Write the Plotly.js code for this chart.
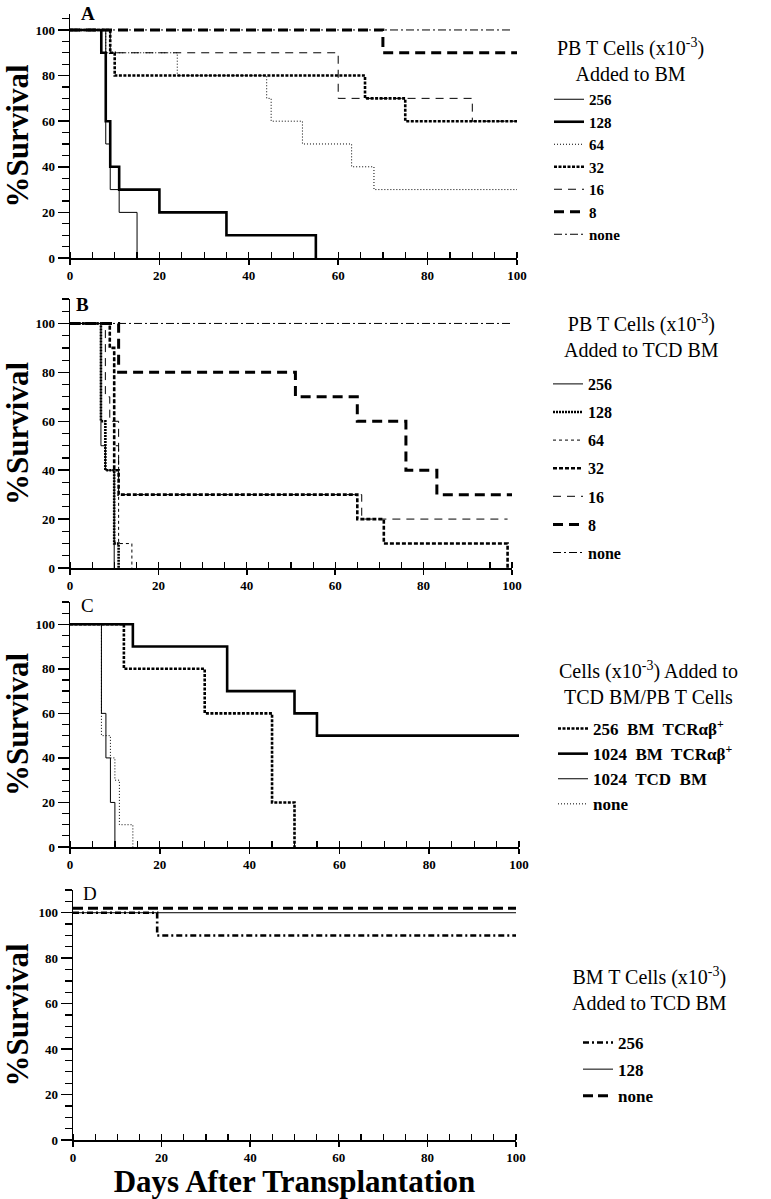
<!DOCTYPE html>
<html><head><meta charset="utf-8">
<script src="https://cdn.plot.ly/plotly-3.0.1.min.js"></script>
<style>body{margin:0;background:#fff}</style>
</head><body>
<div id="chart" style="width:771px;height:1199px"></div>
<script>
// ---------- DATA ----------
// Panel A: PB T cells (x10^-3) added to BM
const aNames = ["256","128","64","32","16","8","none"];
const aDays256 = [0,8,9,11,15];            const aSurv256 = [100,50,30,20,0];
const aDays128 = [0,7,8,9,11,20,35,55];    const aSurv128 = [100,90,60,40,30,20,10,0];
const aDays64  = [0,8,24,44,45,52,63,68,100]; const aSurv64 = [100,90,80,70,60,50,40,30,30];
const aDays32  = [0,9,10,66,75,100];       const aSurv32  = [100,90,80,70,60,60];
const aDays16  = [0,9,60,90,100];          const aSurv16  = [100,90,70,60,60];
const aDays8   = [0,70,100];               const aSurv8   = [100,90,90];
const aDaysNone= [0,99];                   const aSurvNone= [100,100];

// Panel B: PB T cells (x10^-3) added to TCD BM
const bNames = ["256","128","64","32","16","8","none"];
const bDays256 = [0,7,8,10];               const bSurv256 = [100,50,40,0];
const bDays128 = [0,7,8,10,11];            const bSurv128 = [100,60,40,10,0];
const bDays64  = [0,9,10,11,14];           const bSurv64  = [100,90,50,10,0];
const bDays32  = [0,9,10,11,65,71,99];     const bSurv32  = [100,90,40,30,20,10,0];
const bDays16  = [0,8,9,11,66,99];         const bSurv16  = [100,70,60,30,20,20];
const bDays8   = [0,11,51,65,76,83,100];   const bSurv8   = [100,80,70,60,40,30,30];
const bDaysNone= [0,100];                  const bSurvNone= [100,100];

// Panel C: cells (x10^-3) added to TCD BM/PB T cells
const cNames = ["256  BM  TCRαβ<sup>+</sup>","1024  BM  TCRαβ<sup>+</sup>","1024  TCD  BM","none"];
const cDays256BM  = [0,12,30,45,50];       const cSurv256BM  = [100,80,60,20,0];
const cDays1024BM = [0,14,35,50,55,100];   const cSurv1024BM = [100,90,70,60,50,50];
const cDays1024TCD= [0,7,8,9,10];          const cSurv1024TCD= [100,60,40,20,0];
const cDaysNone   = [0,7,9,10,11,14];      const cSurvNone   = [100,50,40,30,10,0];

// Panel D: BM T cells (x10^-3) added to TCD BM
const dNames = ["256","128","none"];
const dDays256 = [0,19,100];               const dSurv256 = [100,90,90];
const dDays128 = [0,100];                  const dSurv128 = [100,100];
const dDaysNone= [0,100];                  const dSurvNone= [102,102];

const yTickVals = [0,20,40,60,80,100];
const xTickVals = [0,20,40,60,80,100];

// ---------- LAYOUT HELPERS ----------
const W = 771, H = 1199;
const px = v => v / W;
const py = v => 1 - v / H;
const SERIF = "Liberation Serif, Times New Roman, serif";

function tr(x, y, name, xa, ya, leg, dash, width, group) {
  return {x: x, y: y, name: name, type: "scatter", mode: "lines",
    xaxis: xa, yaxis: ya, legend: leg, legendgroup: group,
    line: {shape: "hv", color: "#000", width: width, dash: dash},
    hoverinfo: "skip"};
}

const THICK = 2.6, THIN = 1;
const traces = [
  tr(aDays256, aSurv256, aNames[0], "x", "y", "legend", "solid", THIN, "a0"),
  tr(aDays128, aSurv128, aNames[1], "x", "y", "legend", "solid", THICK, "a1"),
  tr(aDays64,  aSurv64,  aNames[2], "x", "y", "legend", "1px,2px", THIN, "a2"),
  tr(aDays32,  aSurv32,  aNames[3], "x", "y", "legend", "3px,1.5px", THICK, "a3"),
  tr(aDays16,  aSurv16,  aNames[4], "x", "y", "legend", "8px,6px", THIN, "a4"),
  tr(aDays8,   aSurv8,   aNames[5], "x", "y", "legend", "10px,6px", 3, "a5"),
  tr(aDaysNone,aSurvNone,aNames[6], "x", "y", "legend", "8px,3px,2px,3px", THIN, "a6"),

  tr(bDays256, bSurv256, bNames[0], "x2", "y2", "legend2", "solid", THIN, "b0"),
  tr(bDays128, bSurv128, bNames[1], "x2", "y2", "legend2", "2px,1px", THICK, "b1"),
  tr(bDays64,  bSurv64,  bNames[2], "x2", "y2", "legend2", "3px,3px", THIN, "b2"),
  tr(bDays32,  bSurv32,  bNames[3], "x2", "y2", "legend2", "4px,2px", THICK, "b3"),
  tr(bDays16,  bSurv16,  bNames[4], "x2", "y2", "legend2", "8px,6px", THIN, "b4"),
  tr(bDays8,   bSurv8,   bNames[5], "x2", "y2", "legend2", "10px,6px", 3, "b5"),
  tr(bDaysNone,bSurvNone,bNames[6], "x2", "y2", "legend2", "8px,3px,2px,3px", THIN, "b6"),

  tr(cDays256BM,  cSurv256BM,  cNames[0], "x3", "y3", "legend3", "3px,1.5px", THICK, "c0"),
  tr(cDays1024BM, cSurv1024BM, cNames[1], "x3", "y3", "legend3", "solid", THICK, "c1"),
  tr(cDays1024TCD,cSurv1024TCD,cNames[2], "x3", "y3", "legend3", "solid", THIN, "c2"),
  tr(cDaysNone,   cSurvNone,   cNames[3], "x3", "y3", "legend3", "1px,2px", THIN, "c3"),

  tr(dDays256, dSurv256, dNames[0], "x4", "y4", "legend4", "6px,3px,2px,3px", THICK, "d0"),
  tr(dDays128, dSurv128, dNames[1], "x4", "y4", "legend4", "solid", THIN, "d1"),
  tr(dDaysNone,dSurvNone,dNames[2], "x4", "y4", "legend4", "10px,5px", 3, "d2")
];

const tickFont = {family: SERIF, size: 13, weight: "bold", color: "#000"};
function xAxis(x0, x1, anchor, withTitle) {
  const a = {domain: [px(x0), px(x1)], range: [0, 100], anchor: anchor,
    showline: true, linecolor: "#000", linewidth: 1.5, mirror: false,
    ticks: "outside", ticklen: 5, tickwidth: 1.5, tickcolor: "#000",
    tickmode: "array", tickvals: xTickVals, ticktext: xTickVals.map(String),
    tickfont: tickFont,
    minor: {tickmode: "linear", tick0: 0, dtick: 5, ticks: "inside", ticklen: 6, tickwidth: 1.2, tickcolor: "#000", showgrid: false},
    showgrid: false, zeroline: false, fixedrange: true};
  if (withTitle) a.title = {text: "Days After Transplantation", font: {family: SERIF, size: 31, weight: "bold", color: "#000"}, standoff: 6};
  return a;
}
function yAxis(top, bottom, maxV, anchor) {
  return {domain: [py(bottom), py(top)], range: [0, maxV], anchor: anchor,
    showline: true, linecolor: "#000", linewidth: 1.5,
    ticks: "outside", ticklen: 11, tickwidth: 1.5, tickcolor: "#000",
    tickmode: "array", tickvals: yTickVals, ticktext: yTickVals.map(String),
    tickfont: tickFont,
    minor: {tickmode: "linear", tick0: 0, dtick: 5, ticks: "outside", ticklen: 7, tickwidth: 1.2, tickcolor: "#000", showgrid: false},
    title: {text: "%Survival", font: {family: SERIF, size: 31, weight: "bold", color: "#000"}, standoff: 2},
    showgrid: false, zeroline: false, fixedrange: true};
}

function legendAt(xLeft, yTop, size, gap) {
  return {x: px(xLeft), y: py(yTop), xanchor: "left", yanchor: "top",
    bgcolor: "rgba(0,0,0,0)", borderwidth: 0, tracegroupgap: gap, traceorder: "grouped",
    font: {family: SERIF, size: size, weight: "bold", color: "#000"}};
}

function ann(text, x, y, size, bold) {
  return {text: text, x: px(x), y: py(y), xref: "paper", yref: "paper",
    xanchor: "center", yanchor: "middle", showarrow: false, align: "center",
    font: {family: SERIF, size: size, weight: bold ? "bold" : "normal", color: "#000"}};
}

const layout = {
  width: W, height: H, margin: {l: 0, r: 0, t: 0, b: 0},
  paper_bgcolor: "#fff", plot_bgcolor: "rgba(0,0,0,0)",
  showlegend: true,
  xaxis:  xAxis(70, 517, "y", false),
  yaxis:  yAxis(14, 258, 107, "x"),
  xaxis2: xAxis(70, 512, "y2", false),
  yaxis2: yAxis(299, 568, 110, "x2"),
  xaxis3: xAxis(70, 519, "y3", false),
  yaxis3: yAxis(602, 847, 110, "x3"),
  xaxis4: xAxis(73, 516, "y4", true),
  yaxis4: yAxis(890, 1140, 110, "x4"),
  legend:  legendAt(549, 83, 15, 0),
  legend2: legendAt(548, 367, 16, 4.3),
  legend3: legendAt(553, 711, 17, 0),
  legend4: legendAt(578, 1025, 17, 1.5),
  annotations: [
    ann("A", 88, 13, 19, true),
    ann("B", 82, 304, 19, true),
    ann("C", 87, 606, 19, false),
    ann("D", 90, 893, 19, false),
    ann("PB T Cells (x10<sup>-3</sup>)<br>Added to BM", 630, 60, 20, false),
    ann("PB T Cells (x10<sup>-3</sup>)<br>Added to TCD BM", 641, 336, 20, false),
    ann("Cells (x10<sup>-3</sup>) Added to<br>TCD BM/PB T Cells", 648, 683, 20, false),
    ann("BM T Cells (x10<sup>-3</sup>)<br>Added to TCD BM", 649, 989, 20, false)
  ]
};

Plotly.newPlot("chart", traces, layout, {staticPlot: true, displayModeBar: false});
</script>
</body></html>
